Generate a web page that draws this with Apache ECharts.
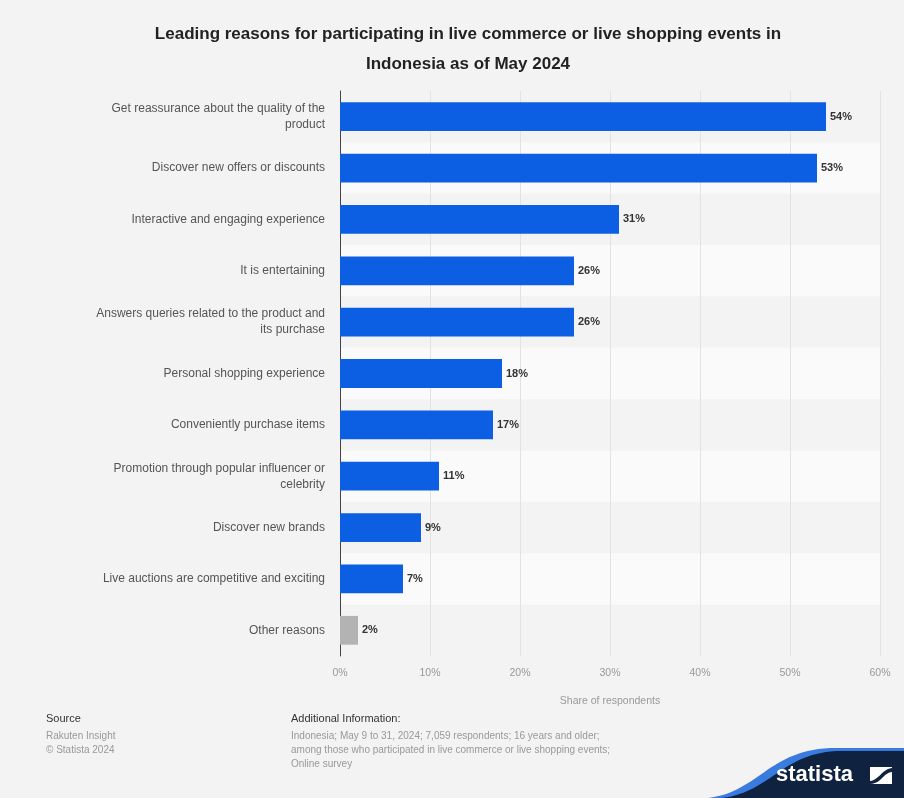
<!DOCTYPE html>
<html>
<head>
<meta charset="utf-8">
<script src="https://cdn.jsdelivr.net/npm/echarts@6/dist/echarts.min.js"></script>
<style>
html,body{margin:0;padding:0;background:#f3f3f3;}
#chart{width:904px;height:798px;}
</style>
</head>
<body>
<div id="chart"></div>
<script>
const categories = [
  "Get reassurance about the quality of the\nproduct",
  "Discover new offers or discounts",
  "Interactive and engaging experience",
  "It is entertaining",
  "Answers queries related to the product and\nits purchase",
  "Personal shopping experience",
  "Conveniently purchase items",
  "Promotion through popular influencer or\ncelebrity",
  "Discover new brands",
  "Live auctions are competitive and exciting",
  "Other reasons"
];
const values = [54, 53, 31, 26, 26, 18, 17, 11, 9, 7, 2];
const xTicks = { min: 0, max: 60, interval: 10 };
const titleText = "Leading reasons for participating in live commerce or live shopping events in\nIndonesia as of May 2024";

function bez(p0, p1, p2, p3, n) {
  const pts = [];
  for (let i = 0; i <= n; i++) {
    const t = i / n, u = 1 - t;
    pts.push([
      u*u*u*p0[0] + 3*u*u*t*p1[0] + 3*u*t*t*p2[0] + t*t*t*p3[0],
      u*u*u*p0[1] + 3*u*u*t*p1[1] + 3*u*t*t*p2[1] + t*t*t*p3[1]
    ]);
  }
  return pts;
}
const swooshBlue = bez([708, 798], [758, 792], [768, 751], [830, 748], 30).concat([[904, 748], [904, 798]]);
const swooshDark = bez([722, 798], [770, 792], [782, 754], [836, 751], 30).concat([[904, 751], [904, 798]]);

const chart = echarts.init(document.getElementById('chart'));
const seriesData = values.map((v, i) => ({
  value: v,
  itemStyle: { color: categories[i] === "Other reasons" ? '#b3b3b3' : '#0c5fe2' }
}));

chart.setOption({
  backgroundColor: '#f3f3f3',
  animation: false,
  title: {
    text: titleText,
    left: 463,
    textAlign: 'center',
    top: 14,
    textStyle: { fontFamily: 'Liberation Sans', fontWeight: 'bold', fontSize: 17, color: '#222', lineHeight: 30 }
  },
  grid: { left: 340, right: 24, top: 91, bottom: 142 },
  xAxis: {
    type: 'value',
    min: xTicks.min, max: xTicks.max, interval: xTicks.interval,
    axisLabel: { formatter: '{value}%', color: '#999', fontSize: 10.5, fontFamily: 'Liberation Sans', margin: 12 },
    axisLine: { show: false },
    axisTick: { show: false },
    splitLine: { lineStyle: { color: '#e2e2e2', width: 1 } },
    name: 'Share of respondents',
    nameLocation: 'middle',
    nameGap: 40,
    nameTextStyle: { color: '#999', fontSize: 10.5, fontFamily: 'Liberation Sans' }
  },
  yAxis: {
    type: 'category',
    data: categories,
    inverse: true,
    axisLine: { show: true, lineStyle: { color: '#444', width: 1 } },
    axisTick: { show: false },
    axisLabel: { color: '#555', fontSize: 12, fontFamily: 'Liberation Sans', margin: 15, lineHeight: 16, align: 'right' },
    splitArea: { show: true, areaStyle: { color: ['#f3f3f3', '#fafafa'] } }
  },
  series: [{
    type: 'bar',
    data: seriesData,
    barWidth: '56%',
    label: {
      show: true, position: 'right', distance: 4,
      formatter: '{c}%', color: '#333', fontWeight: 'bold', fontSize: 11, fontFamily: 'Liberation Sans'
    }
  }],
  graphic: [
    { type: 'text', left: 46, top: 713, style: { text: 'Source', fill: '#333', font: '11px "Liberation Sans"' } },
    { type: 'text', left: 46, top: 729, style: { text: 'Rakuten Insight\n© Statista 2024', fill: '#999', font: '10px "Liberation Sans"', lineHeight: 14 } },
    { type: 'text', left: 291, top: 713, style: { text: 'Additional Information:', fill: '#333', font: '11px "Liberation Sans"' } },
    { type: 'text', left: 291, top: 729, style: { text: 'Indonesia; May 9 to 31, 2024; 7,059 respondents; 16 years and older;\namong those who participated in live commerce or live shopping events;\nOnline survey', fill: '#999', font: '10px "Liberation Sans"', lineHeight: 14 } },
    { type: 'polygon', shape: { points: swooshBlue }, style: { fill: '#3a7be0' } },
    { type: 'polygon', shape: { points: swooshDark }, style: { fill: '#0f2240' } },
    { type: 'text', left: 776, top: 764, style: { text: 'statista', fill: '#ffffff', font: 'bold 22px "Liberation Sans"' } },
    { type: 'rect', shape: { x: 870, y: 767, width: 22, height: 17 }, style: { fill: '#ffffff' } },
    { type: 'polygon', shape: { points: bez([870, 781], [878, 781], [882, 769], [892, 768], 12).concat(bez([892, 772], [884, 772], [881, 784], [870, 784], 12)) }, style: { fill: '#0f2240' } }
  ]
});
</script>
</body>
</html>
